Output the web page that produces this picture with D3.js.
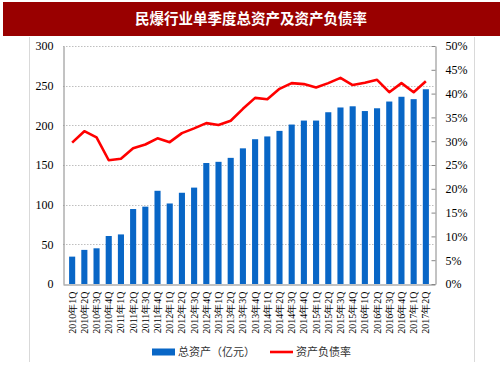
<!DOCTYPE html>
<html>
<head>
<meta charset="utf-8">
<script src="https://cdn.jsdelivr.net/npm/d3@7"></script>
<style>
  body { margin: 0; background: #fff; }
  svg { display: block; }
</style>
</head>
<body>
<div id="chart"></div>
<script>
const title = '民爆行业单季度总资产及资产负债率'

const quarters = []
for (let y = 2010; y <= 2017; y++) {
  for (let q = 1; q <= 4; q++) {
    if (y === 2017 && q > 2) break
    quarters.push(`${y}年${q}Q`)
  }
}

// 总资产（亿元）
const totalAssets = [
  34.5, 43, 45, 60.5, 62.5, 94.5, 97.5, 117.5, 101.5, 115,
  121.5, 152.5, 154, 159, 171, 182.5, 186, 193, 201, 206,
  206, 216.5, 222.5, 224, 218, 221.5, 230, 236, 233, 245.5
]

// 资产负债率（%）
const debtRatio = [
  29.7, 32.1, 30.8, 26.0, 26.3, 28.5, 29.3, 30.6, 29.8, 31.7,
  32.7, 33.8, 33.4, 34.3, 36.8, 39.1, 38.8, 41.0, 42.2, 42.0,
  41.3, 42.2, 43.3, 41.8, 42.3, 42.9, 40.3, 42.2, 40.3, 42.6
]

const leftTicks = [0, 50, 100, 150, 200, 250, 300]
const rightTicks = [0, 5, 10, 15, 20, 25, 30, 35, 40, 45, 50]

const width = 503
const height = 378
const margin = { top: 46, right: 68, bottom: 94, left: 63 }
const barColor = '#0866c6'
const lineColor = '#ff0000'
const serif = '"Liberation Serif", "Times New Roman", serif'
const cjk = '"Noto Sans CJK SC", sans-serif'

const svg = d3.select('#chart')
  .append('svg')
  .attr('width', width)
  .attr('height', height)

// 标题栏
svg.append('rect')
  .attr('x', 3).attr('y', 2)
  .attr('width', 497).attr('height', 34)
  .attr('fill', '#990000')
svg.append('text')
  .attr('x', 251).attr('y', 24)
  .attr('text-anchor', 'middle')
  .attr('fill', '#fff')
  .style('font-family', cjk)
  .style('font-weight', 'bold')
  .style('font-size', '14.5px')
  .text(title)

// 外框竖线
svg.append('line').attr('x1', 29.5).attr('x2', 29.5).attr('y1', 37).attr('y2', 362)
  .attr('stroke', '#d9d9d9')
svg.append('line').attr('x1', 474.5).attr('x2', 474.5).attr('y1', 37).attr('y2', 362)
  .attr('stroke', '#d9d9d9')

const x0 = margin.left
const x1 = width - margin.right
const y0 = height - margin.bottom
const y1 = margin.top

const x = d3.scaleBand().domain(quarters).range([x0, x1]).padding(0.5)
const yL = d3.scaleLinear().domain([0, 300]).range([y0, y1])
const yR = d3.scaleLinear().domain([0, 50]).range([y0, y1])

// 网格线
svg.append('g')
  .selectAll('line')
  .data(leftTicks.filter(d => d > 0))
  .enter().append('line')
    .attr('x1', x0).attr('x2', x1)
    .attr('y1', d => Math.round(yL(d)) + 0.5)
    .attr('y2', d => Math.round(yL(d)) + 0.5)
    .attr('stroke', '#bfbfbf')
    .attr('stroke-dasharray', '1.5,1.5')

// 柱
svg.append('g')
  .selectAll('rect')
  .data(totalAssets)
  .enter().append('rect')
    .attr('x', (d, i) => x(quarters[i]))
    .attr('width', x.bandwidth())
    .attr('y', d => yL(d))
    .attr('height', d => y0 - yL(d))
    .attr('fill', barColor)

// 折线
const line = d3.line()
  .x((d, i) => x(quarters[i]) + x.bandwidth() / 2)
  .y(d => yR(d))
svg.append('path')
  .datum(debtRatio)
  .attr('d', line)
  .attr('fill', 'none')
  .attr('stroke', lineColor)
  .attr('stroke-width', 2.6)
  .attr('stroke-linejoin', 'round')

// 左轴
const leftAxis = svg.append('g')
  .attr('transform', `translate(${x0 + 0.5},0)`)
  .call(d3.axisLeft(yL).tickValues(leftTicks).tickSize(0).tickPadding(10))
leftAxis.select('.domain').attr('stroke', '#868686')
leftAxis.selectAll('text')
  .style('font-family', serif).style('font-size', '12px').attr('fill', '#000')

// 右轴
const rightAxis = svg.append('g')
  .attr('transform', `translate(${x1 + 0.5},0)`)
  .call(d3.axisRight(yR).tickValues(rightTicks).tickFormat(d => d + '%').tickSizeInner(-4).tickSizeOuter(0).tickPadding(10))
rightAxis.select('.domain').attr('stroke', '#868686')
rightAxis.selectAll('.tick line').attr('stroke', '#868686')
rightAxis.selectAll('text')
  .style('font-family', serif).style('font-size', '12px').attr('fill', '#000')

// 底轴
const bottomAxis = svg.append('g')
  .attr('transform', `translate(0,${y0 + 0.5})`)
  .call(d3.axisBottom(x).tickSize(0).tickPadding(0))
bottomAxis.select('.domain').attr('stroke', '#868686')
bottomAxis.selectAll('text')
  .style('font-family', serif).style('font-size', '10px').attr('fill', '#000')
  .attr('text-anchor', 'end')
  .attr('dy', '0.35em')
  .attr('transform', 'translate(0,7) rotate(-90)')

// 图例
const legend = svg.append('g').attr('transform', 'translate(152,352)')
legend.append('rect').attr('x', 0).attr('y', -3.5).attr('width', 23).attr('height', 7).attr('fill', barColor)
legend.append('text').attr('x', 26).attr('y', 4)
  .style('font-family', cjk).style('font-size', '11px').attr('fill', '#333')
  .text('总资产（亿元）')
legend.append('line').attr('x1', 118).attr('x2', 141).attr('y1', 0).attr('y2', 0)
  .attr('stroke', lineColor).attr('stroke-width', 2.6)
legend.append('text').attr('x', 144).attr('y', 4)
  .style('font-family', cjk).style('font-size', '11px').attr('fill', '#333')
  .text('资产负债率')
</script>
</body>
</html>
